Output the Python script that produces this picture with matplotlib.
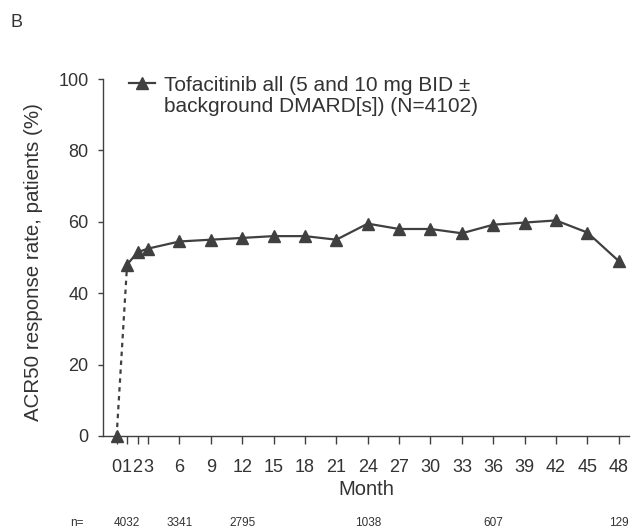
import numpy as np
import matplotlib.pyplot as plt

plt.rcParams['font.family'] = ['Liberation Sans', 'DejaVu Sans']

months = [0, 1, 2, 3, 6, 9, 12, 15, 18, 21, 24, 27, 30, 33, 36, 39, 42, 45, 48]
response = [0, 48, 51.5, 52.5, 54.5, 55, 55.5, 56, 56, 55, 59.5, 58, 58, 56.8, 59.2, 59.8, 60.4, 57, 49]
tick_labels = ['0', '1', '2', '3', '6', '9', '12', '15', '18', '21', '24', '27', '30', '33',
               '36', '39', '42', '45', '48']
n_months = [1, 6, 12, 24, 36, 48]
n_values = ['4032', '3341', '2795', '1038', '607', '129']
label = 'Tofacitinib all (5 and 10 mg BID \u00b1\nbackground DMARD[s]) (N=4102)'

col = '#404040'
txt = '#333333'

fig = plt.figure(figsize=(6.34, 5.31), dpi=100)
ax = fig.add_axes([0.1625, 0.179, 0.83, 0.672])

# dashed segment from baseline to month 1
ax.plot(months[:2], response[:2], color=col, lw=1.6, ls=(0, (2, 2)), clip_on=False)
ax.plot(months[1:], response[1:], color=col, lw=1.6, marker='^', ms=8, clip_on=False,
        label=label)
ax.plot(months[0], response[0], color=col, marker='^', ms=8, ls='none', clip_on=False)

ax.set_xlim(-1.3, 49)
ax.set_ylim(0, 100)
ax.set_xticks(months)
ax.set_xticklabels(tick_labels)
ax.set_yticks([0, 20, 40, 60, 80, 100])

for s in ['top', 'right']:
    ax.spines[s].set_visible(False)
for s in ['left', 'bottom']:
    ax.spines[s].set_color(col)
    ax.spines[s].set_linewidth(1.0)

ax.tick_params(axis='both', colors=col, labelcolor=txt, labelsize=13, width=1.0)
ax.tick_params(axis='x', length=5.8, pad=11)
ax.tick_params(axis='y', length=3.8, pad=6.5)

ax.set_xlabel('Month', fontsize=14.5, color=txt)
ax.set_ylabel('ACR50 response rate, patients (%)', fontsize=14.8, color=txt)
ax.xaxis.set_label_coords(0.5, -0.123)
ax.yaxis.set_label_coords(-0.114, 0.487)

leg = ax.legend(loc='upper left', bbox_to_anchor=(0.049, 1.01), frameon=False, fontsize=15,
                handlelength=1.25, handletextpad=0.43, labelcolor=txt, borderaxespad=0,
                borderpad=0)
for t in leg.get_texts():
    t.set_linespacing(1.15)
# put the handle level with the first line of the label
for column in leg._legend_handle_box.get_children():
    for item in column.get_children():
        item.align = 'top'

fig.text(0.016, 0.958, 'B', fontsize=13, color=txt, va='center')

# numbers at risk row
ny = 1 - 523 / 531
fig.text(77 / 634, ny, 'n=', fontsize=8.5, color=txt, ha='center', va='center')
for m, v in zip(n_months, n_values):
    xf = ax.transData.transform((m, 0))[0] / fig.bbox.width
    fig.text(xf, ny, v, fontsize=8.5, color=txt, ha='center', va='center')

fig.savefig('out.png', dpi=100)
